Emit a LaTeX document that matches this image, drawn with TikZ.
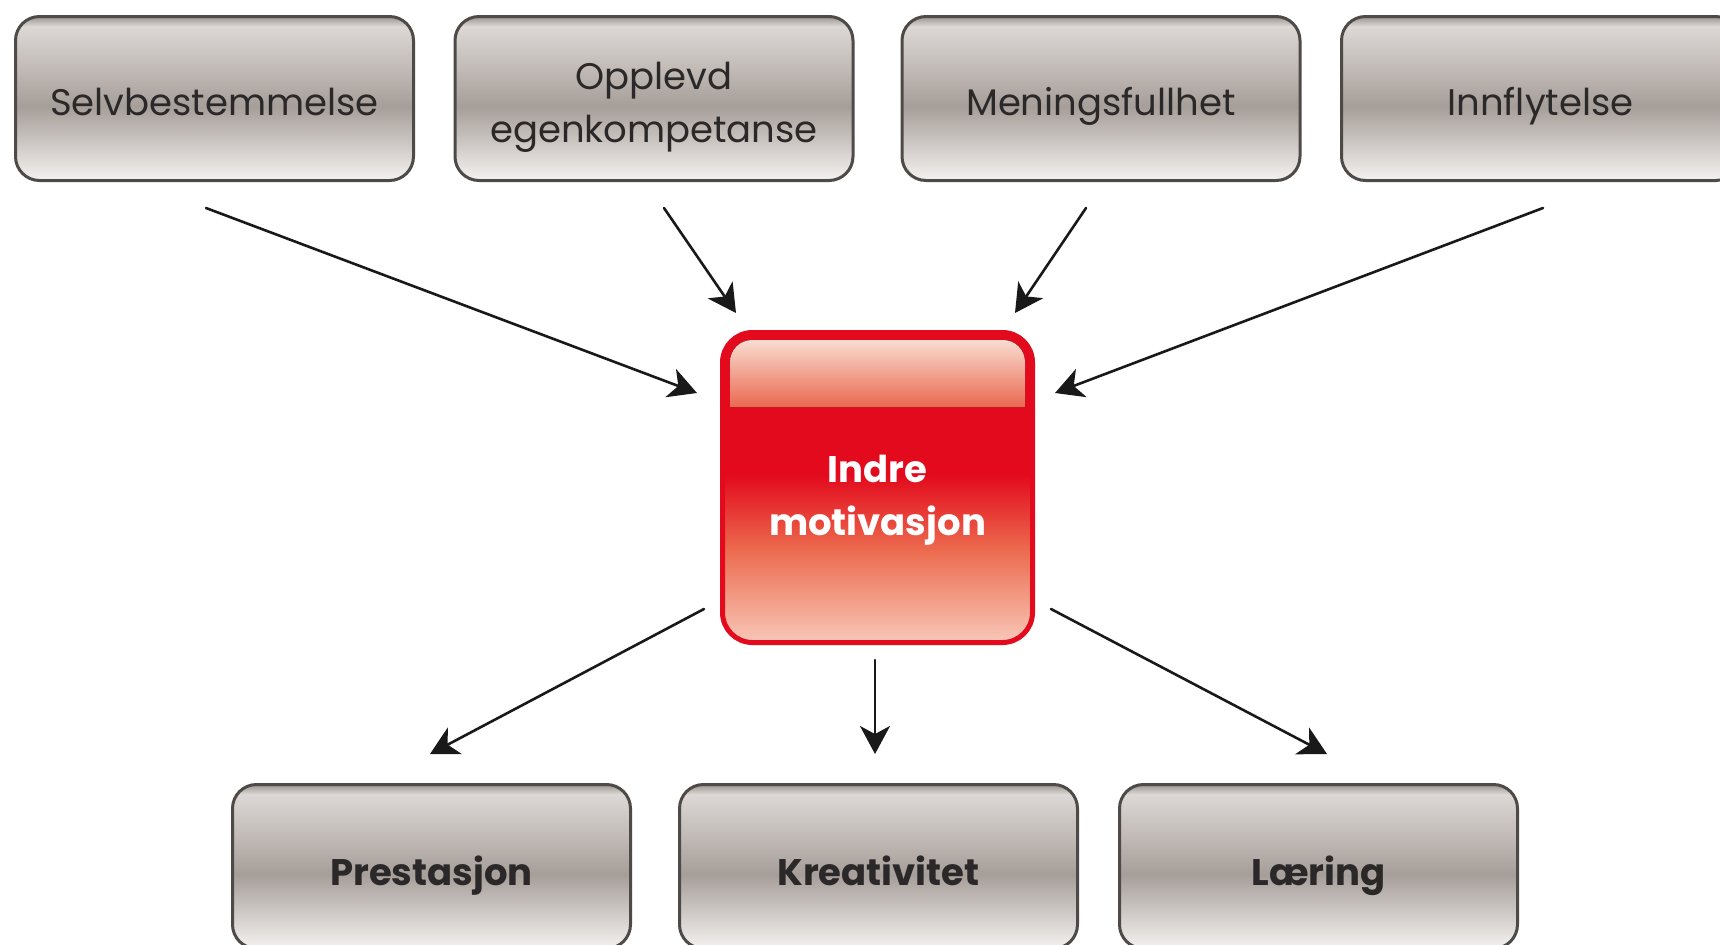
\documentclass[tikz,border=0pt]{standalone}
\usepackage{fontspec}
\setmainfont{Poppins}
\usetikzlibrary{arrows.meta,positioning}
\definecolor{gline}{HTML}{4E4A48}
\definecolor{gtext}{HTML}{2A2828}
\definecolor{gedge}{HTML}{9A938F}
\definecolor{glight}{HTML}{DCD8D5}
\definecolor{gupper}{HTML}{C3BCB8}
\definecolor{gmid}{HTML}{A69E99}
\definecolor{glower}{HTML}{D2CDCA}
\definecolor{gbottom}{HTML}{F4F2F1}
\definecolor{boxred}{HTML}{E30A1D}
\definecolor{redmid}{HTML}{EC6A4E}
\definecolor{redlow}{HTML}{F8C8B8}
\definecolor{hitop}{HTML}{F9DCD1}
\definecolor{hibot}{HTML}{EA6850}
\pgfdeclareverticalshading{greybox}{100bp}{color(0bp)=(gbottom); color(25bp)=(gbottom); color(35bp)=(glower); color(47.5bp)=(gmid); color(60bp)=(gupper); color(72bp)=(glight); color(75bp)=(gedge); color(100bp)=(gedge)}
\pgfdeclareverticalshading{redbox}{100bp}{color(0bp)=(redlow); color(25bp)=(redlow); color(40bp)=(redmid); color(52bp)=(boxred); color(75bp)=(boxred); color(100bp)=(boxred)}
\begin{document}
\begin{tikzpicture}[x=0.5pt, y=-0.5pt, line cap=round, line join=round, >={Stealth[length=14pt,width=15pt,inset=4pt]}]
\tikzset{factor/.style={draw=gline, line width=1.5pt, rounded corners=12pt, shade, shading=greybox, minimum width=199pt, minimum height=82pt, inner sep=0pt, align=center, text=gtext, font=\fontsize{18.5}{26.5}\selectfont},
	oneline/.style={text height=20.5pt, text depth=4pt},
	result/.style={factor, text height=22.5pt, text depth=4pt, font=\fontsize{18.5}{26.5}\selectfont\bfseries},
	core/.style={draw=boxred, line width=2.5pt, rounded corners=15pt, shade, shading=redbox, minimum size=155pt, inner sep=0pt},
	coretext/.style={align=center, text=white, font=\fontsize{18.5}{26.5}\selectfont\bfseries},
	arr/.style={->, line width=1.3pt, black!90}}
\clip (0,0) rectangle (1720,944);
\node[core] (ind) at (877.5,487.5) {};
\fill[top color=hitop, bottom color=hibot] ([shift={(10,77)}]ind.north west) [rounded corners=11pt] -- ([shift={(10,10)}]ind.north west) -- ([shift={(-10,10)}]ind.north east) [sharp corners] -- ([shift={(-10,77)}]ind.north east) -- cycle;
\node[coretext] (indlabel) at (ind) {\rule{0pt}{26pt}Indre\\motivasjon};
\node[factor, oneline] (sel) at (214.5,98.5) {Selvbestemmelse};
\node[factor] (opl) at (654,98.5) {\rule{0pt}{22pt}Opplevd\\egenkompetanse};
\node[factor, oneline] (men) at (1101,98.5) {Meningsfullhet};
\node[factor, oneline] (inn) at (1540.5,98.5) {Innflytelse};
\node[result] (pre) at (431.5,866.5) {Prestasjon};
\node[result] (kre) at (878.5,866.5) {Kreativitet};
\node[result] (lae) at (1318.5,866.5) {Læring};
\draw[arr] ([shift={(-8.5,26)}]sel.south) -- ([shift={(-23,-94.5)}]ind.west);
\draw[arr] ([shift={(10,26)}]opl.south) -- ([shift={(16,-17)}]ind.north west);
\draw[arr] ([shift={(-15,26)}]men.south) -- ([shift={(-20,-17)}]ind.north east);
\draw[arr] ([shift={(2.5,26)}]inn.south) -- ([shift={(20,-94.5)}]ind.east);
\draw[arr] ([shift={(-16,-36)}]ind.south west) -- ([shift={(-1.5,-29)}]pre.north);
\draw[arr] ([shift={(-2.5,15)}]ind.south) -- ([shift={(-3.5,-29)}]kre.north);
\draw[arr] ([shift={(16,-36)}]ind.south east) -- ([shift={(8.5,-29)}]lae.north);
\end{tikzpicture}
\end{document}
